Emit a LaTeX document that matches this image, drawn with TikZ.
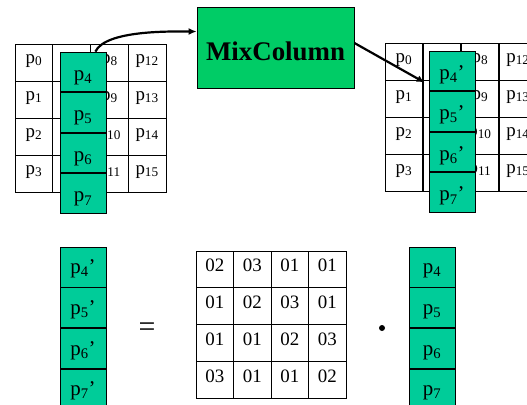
\documentclass[tikz,border=0pt]{standalone}
\usepackage{fontspec}
\setmainfont{Liberation Serif}
\usetikzlibrary{arrows.meta, positioning}

\definecolor{colgreen}{RGB}{0,204,153}
\definecolor{boxgreen}{RGB}{0,204,102}

\tikzset{
    mixdiagram/.style={>={Latex[length=8bp,width=7bp]}, x=1bp, y=1bp},
    cell/.style={draw, line width=0.8bp, minimum width=37.75bp, minimum height=37bp, inner sep=0pt,
        font=\fontsize{19}{22}\selectfont, text height=7bp, text depth=6bp},
    coef/.style={cell, minimum width=37.5bp, minimum height=36.75bp, text height=12.8bp, text depth=8bp},
    colcell/.style={draw, fill=colgreen, line width=0.8bp, minimum width=46bp, minimum height=39.75bp,
        inner sep=0pt, font=\fontsize{21}{24}\selectfont, text height=18bp, text depth=1.2bp},
    rescell/.style={colcell, minimum height=40bp, text height=14bp, text depth=1.2bp},
    mixbox/.style={draw, fill=boxgreen, line width=0.8bp, minimum width=157bp, minimum height=81bp,
        font=\fontsize{27}{31}\selectfont\bfseries, text height=26bp, text depth=1bp},
    flow/.style={->, line width=2.2bp},
}

\begin{document}
\begin{tikzpicture}[mixdiagram]
    \useasboundingbox (0,0) rectangle (527,404);
    \clip (0,0) rectangle (527,404);

    % state before the step, column 1 lifted out
    \foreach \c in {0,...,3}
        \foreach \r in {0,...,3} {
            \pgfmathtruncatemacro\idx{4*\c+\r}
            \node[cell] (in-\c\r) at ({15+37.75*(\c+0.5)}, {404-44-37*(\r+0.5)})
                {\ifnum\c=1 \else p\textsubscript{\idx}\fi};
        }
    \node[colcell] (ing4) at (83,332.1) {p\textsubscript{4}};
    \foreach \i [remember=\i as \j (initially 4)] in {5,6,7}
        \node[colcell, below=0pt of ing\j] (ing\i) {p\textsubscript{\i}};

    \node[mixbox] (mix) at (275.5,356.5) {MixColumn};

    % state after the step
    \foreach \c in {0,...,3}
        \foreach \r in {0,...,3} {
            \pgfmathtruncatemacro\idx{4*\c+\r}
            \node[cell] (out-\c\r) at ({385+38*(\c+0.5)}, {404-43-37*(\r+0.5)})
                {\ifnum\c=1 \else p\textsubscript{\idx}\fi};
        }
    \node[colcell] (outg4) at (452,333.1) {p\textsubscript{4}’};
    \foreach \i [remember=\i as \j (initially 4)] in {5,6,7}
        \node[colcell, below=0pt of outg\j] (outg\i) {p\textsubscript{\i}’};

    \draw[flow] ([xshift=-11bp]ing4.north east) to[out=65, in=180, looseness=0.6] ([yshift=16bp]mix.west);
    \draw[flow] ([yshift=4.5bp]mix.east) -- ([shift={(2bp,-3bp)}]out-11.north west);

    % the column as a matrix product
    \node[rescell] (resg4) at (83,137) {p\textsubscript{4}’};
    \foreach \i [remember=\i as \j (initially 4)] in {5,6,7}
        \node[rescell, below=0pt of resg\j] (resg\i) {p\textsubscript{\i}’};

    \node[font=\fontsize{30}{34}\selectfont] (eq) at (147,74) {=};

    \foreach \row [count=\r from 0] in {{02,03,01,01},{01,02,03,01},{01,01,02,03},{03,01,01,02}}
        \foreach \v [count=\c from 0] in \row
            \node[coef] (m-\r\c) at ({196+37.5*(\c+0.5)}, {404-251-36.75*(\r+0.5)}) {\v};

    \node[circle, fill, inner sep=0pt, minimum size=6bp] (dot) at (382,76) {};

    \node[rescell] (srcg4) at (432,137) {p\textsubscript{4}};
    \foreach \i [remember=\i as \j (initially 4)] in {5,6,7}
        \node[rescell, below=0pt of srcg\j] (srcg\i) {p\textsubscript{\i}};
\end{tikzpicture}
\end{document}
